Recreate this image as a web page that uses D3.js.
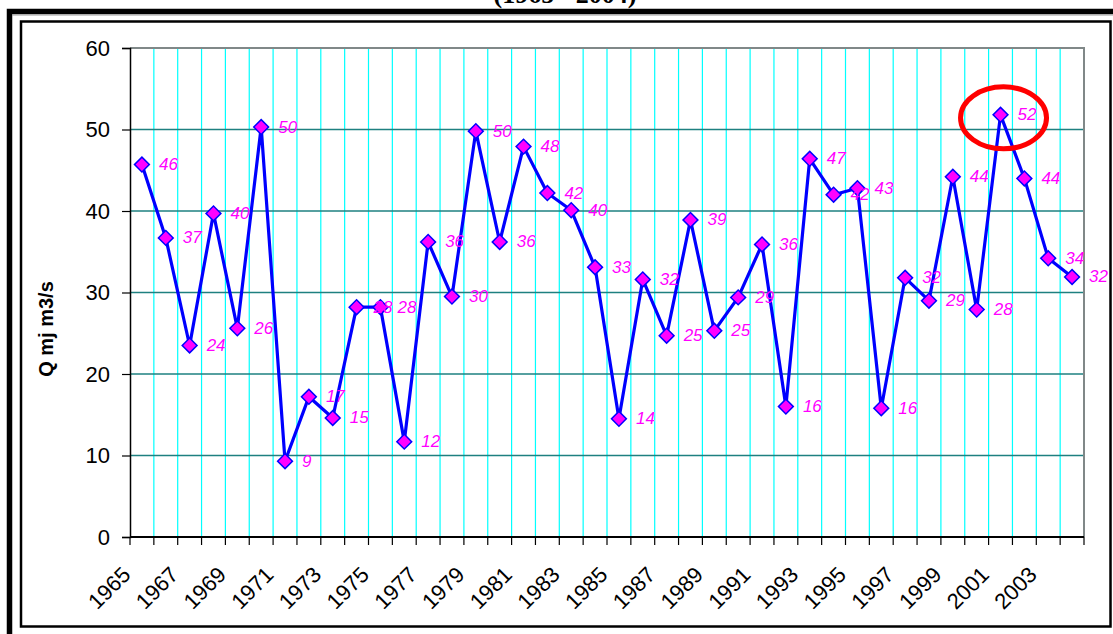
<!DOCTYPE html>
<html>
<head>
<meta charset="utf-8">
<script src="https://cdn.jsdelivr.net/npm/d3@7"></script>
<style>
  html, body { margin: 0; padding: 0; background: #fff; }
  svg { display: block; }
</style>
</head>
<body>
<svg id="chart" width="1113" height="634"></svg>
<script>
// ---- data ----
const years = d3.range(1965, 2005).map(String);
const flows = [45.7, 36.7, 23.5, 39.7, 25.6, 50.3, 9.3, 17.2, 14.6, 28.2,
               28.2, 11.7, 36.2, 29.5, 49.8, 36.2, 47.9, 42.2, 40.1, 33.1,
               14.5, 31.6, 24.7, 38.9, 25.3, 29.4, 35.9, 16.0, 46.4, 42.0,
               42.8, 15.8, 31.8, 29.0, 44.2, 27.9, 51.8, 44.0, 34.2, 31.9];
const flowLabels = ["46","37","24","40","26","50","9","17","15","28",
                    "28","12","36","30","50","36","48","42","40","33",
                    "14","32","25","39","25","29","36","16","47","42",
                    "43","16","32","29","44","28","52","44","34","32"];
const xTickLabels = years.filter((d, i) => i % 2 === 0);
const yTicks = [0, 10, 20, 30, 40, 50, 60];
const highlightYear = "2001";
const titleText = "(1965 - 2004)";
const yTitle = "Q mj m3/s";

// ---- layout ----
const svg = d3.select("#chart");
const plot = { left: 130, right: 1084, top: 48, bottom: 537 };

const x = d3.scaleBand().domain(years).range([plot.left, plot.right]).padding(0);
const y = d3.scaleLinear().domain([0, 60]).range([plot.bottom, plot.top]);
const cx = d => x(d) + x.bandwidth() / 2;

// frame
svg.append("rect").attr("x", 9.5).attr("y", 11.5).attr("width", 1130).attr("height", 650)
  .attr("fill", "none").attr("stroke", "#000").attr("stroke-width", 5.5);
svg.append("line").attr("x1", 12).attr("x2", 1113).attr("y1", 15).attr("y2", 15)
  .attr("stroke", "#999").attr("stroke-width", 1);
svg.append("rect").attr("x", 21).attr("y", 21.5).attr("width", 1089.5).attr("height", 605)
  .attr("fill", "#fff").attr("stroke", "#000").attr("stroke-width", 2.5);

// title (cut off at top)
svg.append("text").attr("x", 565).attr("y", 3)
  .attr("text-anchor", "middle")
  .attr("font-family", "'Liberation Serif', 'Times New Roman', serif")
  .attr("font-weight", "bold").attr("font-size", 26)
  .text(titleText);

// vertical gridlines at category boundaries
const bounds = years.slice(1).map(d => x(d));
svg.append("g").selectAll("line").data(bounds).join("line")
  .attr("x1", d => d).attr("x2", d => d)
  .attr("y1", plot.top).attr("y2", plot.bottom)
  .attr("stroke", "#00FFFF").attr("stroke-width", 1.2);

// horizontal gridlines
svg.append("g").selectAll("line").data(yTicks.filter(t => t > 0 && t < 60)).join("line")
  .attr("x1", plot.left).attr("x2", plot.right)
  .attr("y1", d => y(d)).attr("y2", d => y(d))
  .attr("stroke", "#1E8080").attr("stroke-width", 1.5);

// plot area border (top + right)
svg.append("path")
  .attr("d", `M${plot.left},${plot.top}H${plot.right}V${plot.bottom}`)
  .attr("fill", "none").attr("stroke", "#808888").attr("stroke-width", 2);

// y axis
const yAxis = d3.axisLeft(y).tickValues(yTicks).tickSize(8).tickPadding(12);
const gy = svg.append("g").attr("transform", `translate(${plot.left},0)`).call(yAxis);
gy.select(".domain").attr("stroke", "#000").attr("stroke-width", 1.5);
gy.selectAll(".tick line").attr("stroke", "#000").attr("stroke-width", 1.2);
gy.selectAll(".tick text")
  .attr("font-family", "'Liberation Sans', Arial, sans-serif")
  .attr("font-size", 22).attr("fill", "#000");

// x axis: ticks at boundaries
const gx = svg.append("g");
gx.append("line").attr("x1", plot.left).attr("x2", plot.right)
  .attr("y1", plot.bottom).attr("y2", plot.bottom)
  .attr("stroke", "#000").attr("stroke-width", 2);
const tickPos = years.map(d => x(d)).concat([plot.right]);
gx.selectAll("line.tk").data(tickPos).join("line").attr("class", "tk")
  .attr("x1", d => d).attr("x2", d => d)
  .attr("y1", plot.bottom).attr("y2", plot.bottom + 8)
  .attr("stroke", "#000").attr("stroke-width", 1.2);
gx.selectAll("text").data(xTickLabels).join("text")
  .attr("transform", d => `translate(${cx(d) - 10},${plot.bottom + 39}) rotate(-45)`)
  .attr("text-anchor", "end")
  .attr("font-family", "'Liberation Sans', Arial, sans-serif")
  .attr("font-size", 22).attr("fill", "#000")
  .text(d => d);

// y title
svg.append("text")
  .attr("transform", `translate(53,329) rotate(-90)`)
  .attr("text-anchor", "middle")
  .attr("font-family", "'Liberation Sans', Arial, sans-serif")
  .attr("font-weight", "bold").attr("font-size", 20)
  .text(yTitle);

// series
const pts = years.map((d, i) => ({ year: d, v: flows[i], label: flowLabels[i] }));
svg.append("path").datum(pts)
  .attr("d", d3.line().x(d => cx(d.year)).y(d => y(d.v)))
  .attr("fill", "none").attr("stroke", "#0000FF").attr("stroke-width", 3.2)
  .attr("stroke-linejoin", "round");

svg.append("g").selectAll("path").data(pts).join("path")
  .attr("d", d3.symbol(d3.symbolSquare, 110)())
  .attr("transform", d => `translate(${cx(d.year)},${y(d.v)}) rotate(45)`)
  .attr("fill", "#FF00FF").attr("stroke", "#0000FF").attr("stroke-width", 1.5);

svg.append("g").selectAll("text").data(pts).join("text")
  .attr("x", d => cx(d.year) + 17).attr("y", d => y(d.v) + 1)
  .attr("dominant-baseline", "middle")
  .attr("font-family", "'Liberation Sans', Arial, sans-serif")
  .attr("font-style", "italic").attr("font-size", 17)
  .attr("fill", "#FF00FF")
  .text(d => d.label);

// highlight ellipse around maximum
const hi = pts.find(p => p.year === highlightYear);
svg.append("ellipse")
  .attr("cx", cx(hi.year) + 3).attr("cy", y(hi.v) + 3)
  .attr("rx", 43).attr("ry", 31)
  .attr("fill", "none").attr("stroke", "#FF0000").attr("stroke-width", 5);
</script>
</body>
</html>
